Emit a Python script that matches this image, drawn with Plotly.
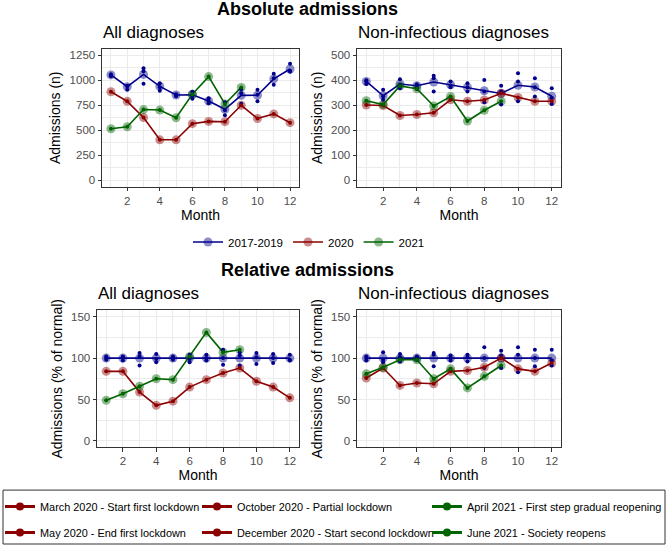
import plotly.graph_objects as go

# ---------------- data ----------------
months = [1, 2, 3, 4, 5, 6, 7, 8, 9, 10, 11, 12]
months_2021 = [1, 2, 3, 4, 5, 6, 7, 8, 9]

# Absolute admissions - all diagnoses
abs_all_ref_a = [1060, 945, 1120, 970, 860, 885, 820, 780, 870, 905, 1065, 1165]
abs_all_ref_b = [1040, 905, 1090, 930, 850, 850, 790, 700, 765, 855, 1020, 1095]
abs_all_ref_c = [1050, 940, 965, 895, 840, 815, 770, 650, 910, 790, 955, 1085]
abs_all_ref_mean = [1053, 935, 1058, 938, 852, 855, 793, 710, 849, 850, 1013, 1112]
abs_all_2020 = [885, 789, 628, 405, 405, 566, 589, 586, 750, 618, 664, 576]
abs_all_2021 = [516, 536, 707, 702, 625, 860, 1036, 763, 928]

# Absolute admissions - non-infectious diagnoses
abs_ni_ref_a = [400, 362, 404, 384, 418, 395, 388, 401, 378, 428, 408, 368]
abs_ni_ref_b = [385, 335, 382, 372, 408, 378, 372, 355, 355, 395, 372, 330]
abs_ni_ref_c = [395, 322, 368, 365, 355, 372, 355, 312, 303, 316, 335, 305]
abs_ni_ref_mean = [395, 338, 385, 378, 393, 382, 371, 358, 347, 380, 373, 336]
abs_ni_2020 = [301, 299, 259, 263, 270, 322, 316, 321, 348, 331, 316, 316]
abs_ni_2021 = [318, 303, 377, 366, 297, 335, 237, 280, 316]

# Relative admissions (% of normal) - all diagnoses
rel_all_ref_a = [102, 102, 106, 105, 102, 104, 104, 110, 103, 106, 105, 104]
rel_all_ref_b = [98, 97, 102, 99, 98, 99, 100, 100, 91, 101, 100, 98]
rel_all_ref_c = [100, 101, 91, 95, 100, 95, 97, 92, 107, 93, 94, 97]
rel_all_ref_mean = [100, 100, 100, 100, 100, 100, 100, 100, 100, 100, 100, 100]
rel_all_2020 = [84, 84, 59, 43, 48, 65, 74, 82, 88, 72, 65, 52]
rel_all_2021 = [49, 57, 66, 75, 74, 102, 131, 107, 110]

# Relative admissions (% of normal) - non-infectious diagnoses
rel_ni_ref_a = [102, 107, 105, 102, 106, 103, 104, 113, 109, 113, 110, 110]
rel_ni_ref_b = [97, 98, 101, 98, 104, 100, 101, 100, 103, 104, 90, 97]
rel_ni_ref_c = [100, 95, 96, 100, 90, 97, 96, 88, 88, 83, 100, 91]
rel_ni_ref_mean = [100, 100, 100, 100, 100, 100, 100, 100, 100, 100, 100, 100]
rel_ni_2020 = [76, 88, 67, 70, 69, 84, 85, 89, 100, 87, 84, 94]
rel_ni_2021 = [81, 89, 98, 98, 75, 87, 64, 78, 91]

series_names = ["2017-2019", "2020", "2021"]
event_names_col1 = ["March 2020 - Start first lockdown", "May 2020 - End first lockdown"]
event_names_col2 = ["October 2020 - Partial lockdown", "December 2020 - Start second lockdown"]
event_names_col3 = ["April 2021 - First step gradual reopening", "June 2021 - Society reopens"]

# ---------------- styling ----------------
W, H = 669, 547
FONT = "Liberation Sans, Arial, sans-serif"
BLUE = "#00008B"
RED = "#8B0000"
GREEN = "#006400"
GRID = "#EBEBEB"
BORDER = "#333333"


def px_x(p):
    return p / W


def px_y(p):
    return 1 - p / H


fig = go.Figure()


def add_panel(n, ref_a, ref_b, ref_c, ref_mean, v2020, v2021, showlegend):
    xa = "x" if n == 1 else f"x{n}"
    ya = "y" if n == 1 else f"y{n}"
    groups = [
        (series_names[0], BLUE, months, ref_mean),
        (series_names[1], RED, months, v2020),
        (series_names[2], GREEN, months_2021, v2021),
    ]
    for name, col, xs, ys in groups:
        fig.add_trace(go.Scatter(
            x=xs, y=ys, mode="lines+markers", name=name,
            line=dict(color=col, width=1.6),
            marker=dict(size=9, color=col, opacity=0.45),
            legendgroup=name, showlegend=showlegend, legend="legend",
            xaxis=xa, yaxis=ya, hoverinfo="x+y+name",
        ))
    # individual points
    fig.add_trace(go.Scatter(
        x=months * 3, y=ref_a + ref_b + ref_c, mode="markers",
        marker=dict(size=4, color=BLUE), showlegend=False,
        legendgroup=series_names[0], xaxis=xa, yaxis=ya,
    ))
    fig.add_trace(go.Scatter(
        x=months, y=v2020, mode="markers",
        marker=dict(size=4, color=RED), showlegend=False,
        legendgroup=series_names[1], xaxis=xa, yaxis=ya,
    ))
    fig.add_trace(go.Scatter(
        x=months_2021, y=v2021, mode="markers",
        marker=dict(size=4, color=GREEN), showlegend=False,
        legendgroup=series_names[2], xaxis=xa, yaxis=ya,
    ))


add_panel(1, abs_all_ref_a, abs_all_ref_b, abs_all_ref_c, abs_all_ref_mean, abs_all_2020, abs_all_2021, True)
add_panel(2, abs_ni_ref_a, abs_ni_ref_b, abs_ni_ref_c, abs_ni_ref_mean, abs_ni_2020, abs_ni_2021, False)
add_panel(3, rel_all_ref_a, rel_all_ref_b, rel_all_ref_c, rel_all_ref_mean, rel_all_2020, rel_all_2021, False)
add_panel(4, rel_ni_ref_a, rel_ni_ref_b, rel_ni_ref_c, rel_ni_ref_mean, rel_ni_2020, rel_ni_2021, False)

# event legend entries (legend only)
for names, col, lg in [(event_names_col1, RED, "legend2"),
                       (event_names_col2, RED, "legend3"),
                       (event_names_col3, GREEN, "legend4")]:
    for nm in names:
        fig.add_trace(go.Scatter(
            x=[None], y=[None], mode="lines+markers", name=nm,
            line=dict(color=col, width=3), marker=dict(size=8, color=col),
            legend=lg, legendgroup=nm, showlegend=True, xaxis="x", yaxis="y",
        ))


def xaxis(dom_px, anchor):
    return dict(
        domain=[px_x(dom_px[0]), px_x(dom_px[1])], anchor=anchor,
        range=[0.45, 12.55], tickmode="linear", tick0=2, dtick=2,
        ticks="outside", ticklen=3.5, tickcolor=BORDER, tickwidth=1,
        showline=True, mirror=True, linecolor=BORDER, linewidth=1,
        showgrid=True, gridcolor=GRID, gridwidth=1,
        minor=dict(tickmode="linear", tick0=1, dtick=1, showgrid=True, gridcolor=GRID, gridwidth=0.6),
        zeroline=False, automargin=False,
        tickfont=dict(family=FONT, size=11.5, color="#4D4D4D"),
        title=dict(text="Month", font=dict(family=FONT, size=14, color="black"), standoff=2),
    )


def yaxis(dom_px, anchor, rng, dtick, title):
    return dict(
        domain=[px_y(dom_px[1]), px_y(dom_px[0])], anchor=anchor,
        range=rng, tickmode="linear", tick0=0, dtick=dtick,
        ticks="outside", ticklen=3.5, tickcolor=BORDER, tickwidth=1,
        showline=True, mirror=True, linecolor=BORDER, linewidth=1,
        showgrid=True, gridcolor=GRID, gridwidth=1,
        minor=dict(tickmode="linear", tick0=dtick / 2, dtick=dtick, showgrid=True, gridcolor=GRID, gridwidth=0.6),
        zeroline=False, automargin=False,
        tickfont=dict(family=FONT, size=11.5, color="#4D4D4D"),
        title=dict(text=title, font=dict(family=FONT, size=14, color="black"), standoff=5),
    )


TOP = (49, 187)
BOT = (311, 448)

fig.update_layout(
    width=W, height=H,
    margin=dict(l=0, r=0, t=0, b=0),
    paper_bgcolor="white", plot_bgcolor="white",
    font=dict(family=FONT, color="black"),
    xaxis=xaxis((102, 299), "y"),
    yaxis=yaxis(TOP, "x", [-62.5, 1312.5], 250, "Admissions (n)"),
    xaxis2=xaxis((357, 561), "y2"),
    yaxis2=yaxis(TOP, "x2", [-25, 525], 100, "Admissions (n)"),
    xaxis3=xaxis((97, 299), "y3"),
    yaxis3=yaxis(BOT, "x3", [-7.5, 157.5], 50, "Admissions (% of normal)"),
    xaxis4=xaxis((357, 561), "y4"),
    yaxis4=yaxis(BOT, "x4", [-7.5, 157.5], 50, "Admissions (% of normal)"),
    legend=dict(orientation="h", x=px_x(309), xanchor="center", y=px_y(242), yanchor="middle",
                font=dict(family=FONT, size=11.5, color="black"), bgcolor="rgba(0,0,0,0)",
                itemwidth=30, traceorder="normal"),
    legend2=dict(orientation="v", x=px_x(0), xanchor="left", y=px_y(492.5), yanchor="top",
                 traceorder="grouped", tracegroupgap=7, bgcolor="rgba(0,0,0,0)",
                 font=dict(family=FONT, size=10.9, color="black"), itemwidth=30),
    legend3=dict(orientation="v", x=px_x(197), xanchor="left", y=px_y(492.5), yanchor="top",
                 traceorder="grouped", tracegroupgap=7, bgcolor="rgba(0,0,0,0)",
                 font=dict(family=FONT, size=10.9, color="black"), itemwidth=30),
    legend4=dict(orientation="v", x=px_x(427), xanchor="left", y=px_y(492.5), yanchor="top",
                 traceorder="grouped", tracegroupgap=7, bgcolor="rgba(0,0,0,0)",
                 font=dict(family=FONT, size=10.9, color="black"), itemwidth=30),
    shapes=[dict(type="rect", xref="paper", yref="paper",
                 x0=px_x(3), x1=px_x(665), y0=px_y(545), y1=px_y(491),
                 line=dict(color=BORDER, width=1), fillcolor="rgba(0,0,0,0)", layer="above")],
    annotations=[
        dict(text="<b>Absolute admissions</b>", x=px_x(307), y=px_y(9.5), xref="paper", yref="paper",
             xanchor="center", yanchor="middle", showarrow=False, font=dict(family=FONT, size=18, color="black")),
        dict(text="All diagnoses", x=px_x(101), y=px_y(33), xref="paper", yref="paper",
             xanchor="left", yanchor="middle", showarrow=False, font=dict(family=FONT, size=17, color="black")),
        dict(text="Non-infectious diagnoses", x=px_x(356), y=px_y(33), xref="paper", yref="paper",
             xanchor="left", yanchor="middle", showarrow=False, font=dict(family=FONT, size=17, color="black")),
        dict(text="<b>Relative admissions</b>", x=px_x(307), y=px_y(270), xref="paper", yref="paper",
             xanchor="center", yanchor="middle", showarrow=False, font=dict(family=FONT, size=18, color="black")),
        dict(text="All diagnoses", x=px_x(96), y=px_y(294), xref="paper", yref="paper",
             xanchor="left", yanchor="middle", showarrow=False, font=dict(family=FONT, size=17, color="black")),
        dict(text="Non-infectious diagnoses", x=px_x(356), y=px_y(294), xref="paper", yref="paper",
             xanchor="left", yanchor="middle", showarrow=False, font=dict(family=FONT, size=17, color="black")),
    ],
)

fig.write_html(
    "out.html",
    config={"displayModeBar": False},
    post_script="document.body.style.margin='0';document.body.style.overflow='hidden';",
)
